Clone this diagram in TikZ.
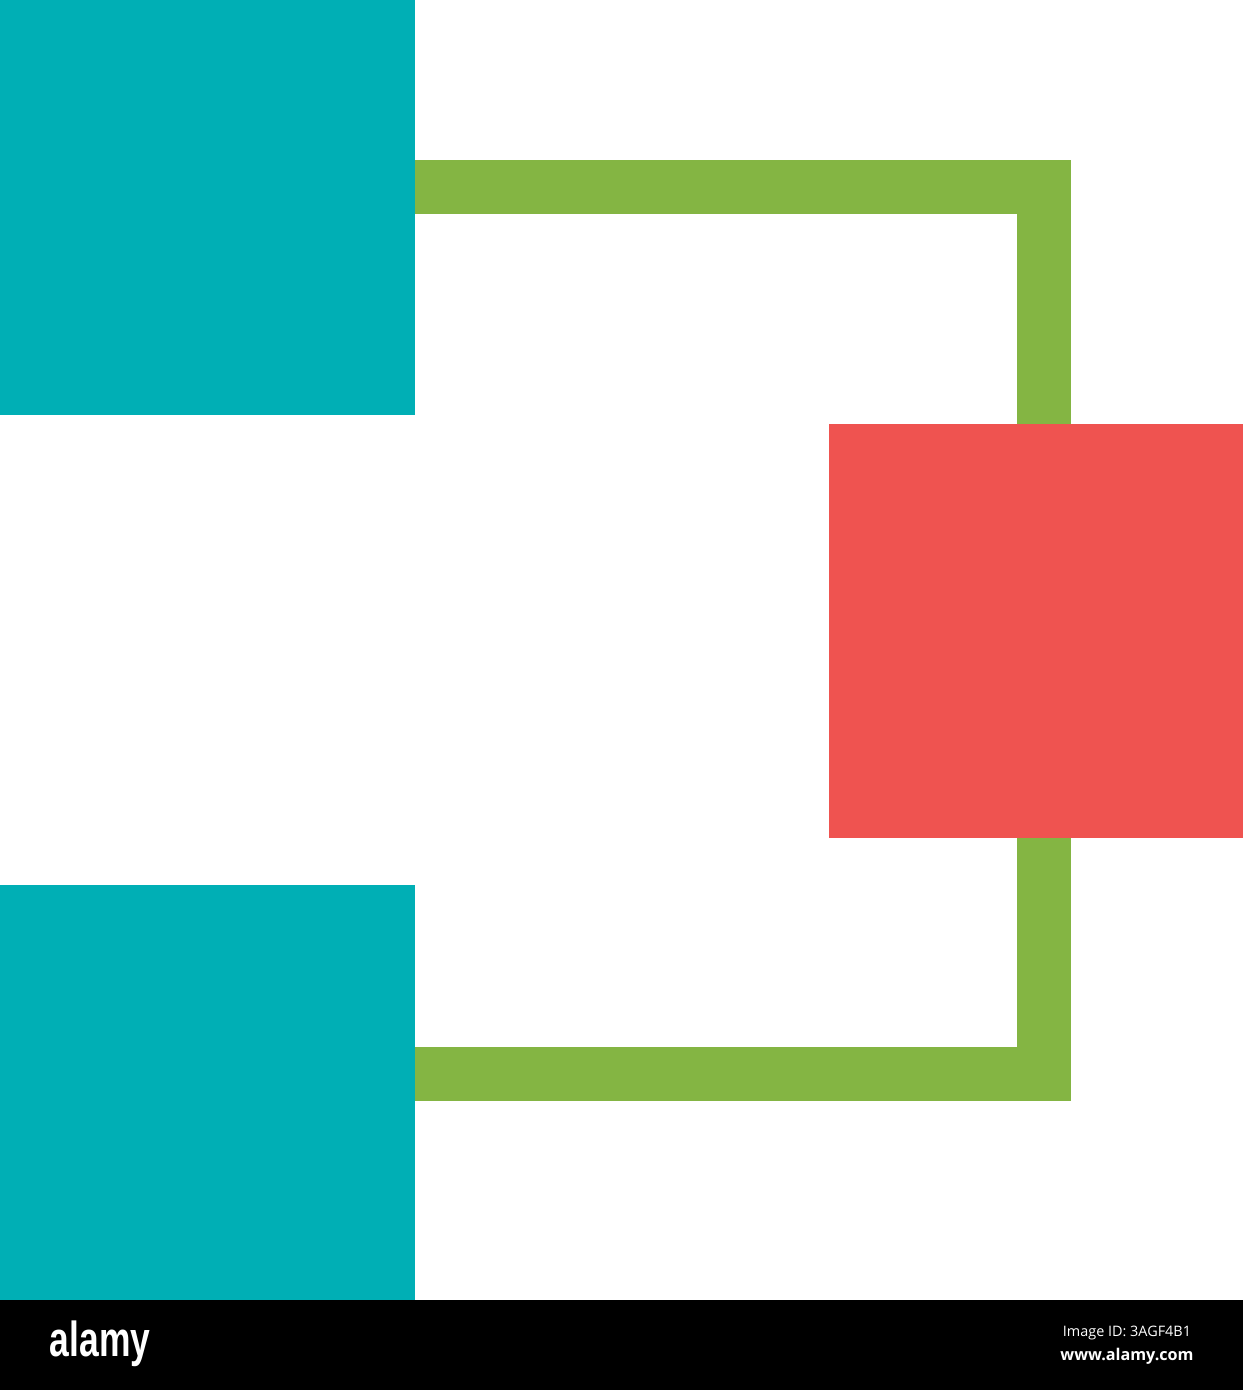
\documentclass[tikz,border=0pt]{standalone}
\usepackage{fontspec}
\setmainfont{Open Sans}
\newfontfamily\logofont{Liberation Sans}
\usepackage{tikz}
\usetikzlibrary{calc}

\definecolor{tealbox}{HTML}{00AFB5}
\definecolor{redbox}{HTML}{EF5350}
\definecolor{greenlink}{HTML}{84B543}

\tikzset{
    sidebox/.style={draw=none, fill=tealbox, minimum size=4.15cm, inner sep=0pt, outer sep=0pt},
    hubbox/.style={draw=none, fill=redbox, minimum size=4.14cm, inner sep=0pt, outer sep=0pt},
    linkline/.style={draw=greenlink, line width=0.54cm, line join=miter, line cap=butt}
}

\begin{document}
\begin{tikzpicture}
            \useasboundingbox (0,0) rectangle (12.43,13.90);
            \fill[white] (0,0.90) rectangle (12.43,13.90);
            % boxes
            \node[sidebox] (upper) at (2.075,11.825) {};
            \node[sidebox] (lower) at (2.075,2.975) {};
            \node[hubbox] (hub) at (10.36,7.59) {};
            % corners of the links
            \coordinate (uppercorner) at (10.44,12.03);
            \coordinate (lowercorner) at (10.44,3.16);
            \draw[linkline] (upper.east |- uppercorner) -- (uppercorner) -- (hub.north -| uppercorner);
            \draw[linkline] (lower.east |- lowercorner) -- (lowercorner) -- (hub.south -| lowercorner);
            % footer strip
            \fill[black] (0,0) rectangle (12.43,0.90);
            \node[text=white, font=\logofont\bfseries\fontsize{14}{14}\selectfont, xscale=0.72, inner sep=0pt] (logo) at (1.00,0.46) {alamy};
            \node[text=white, font=\fontsize{4.1}{5}\selectfont, inner sep=0pt] (imageid) at (11.27,0.57) {Image ID: 3AGF4B1};
            \node[text=white, font=\bfseries\fontsize{4.6}{5.5}\selectfont, inner sep=0pt] (site) at (11.27,0.34) {www.alamy.com};
        \end{tikzpicture}
\end{document}
